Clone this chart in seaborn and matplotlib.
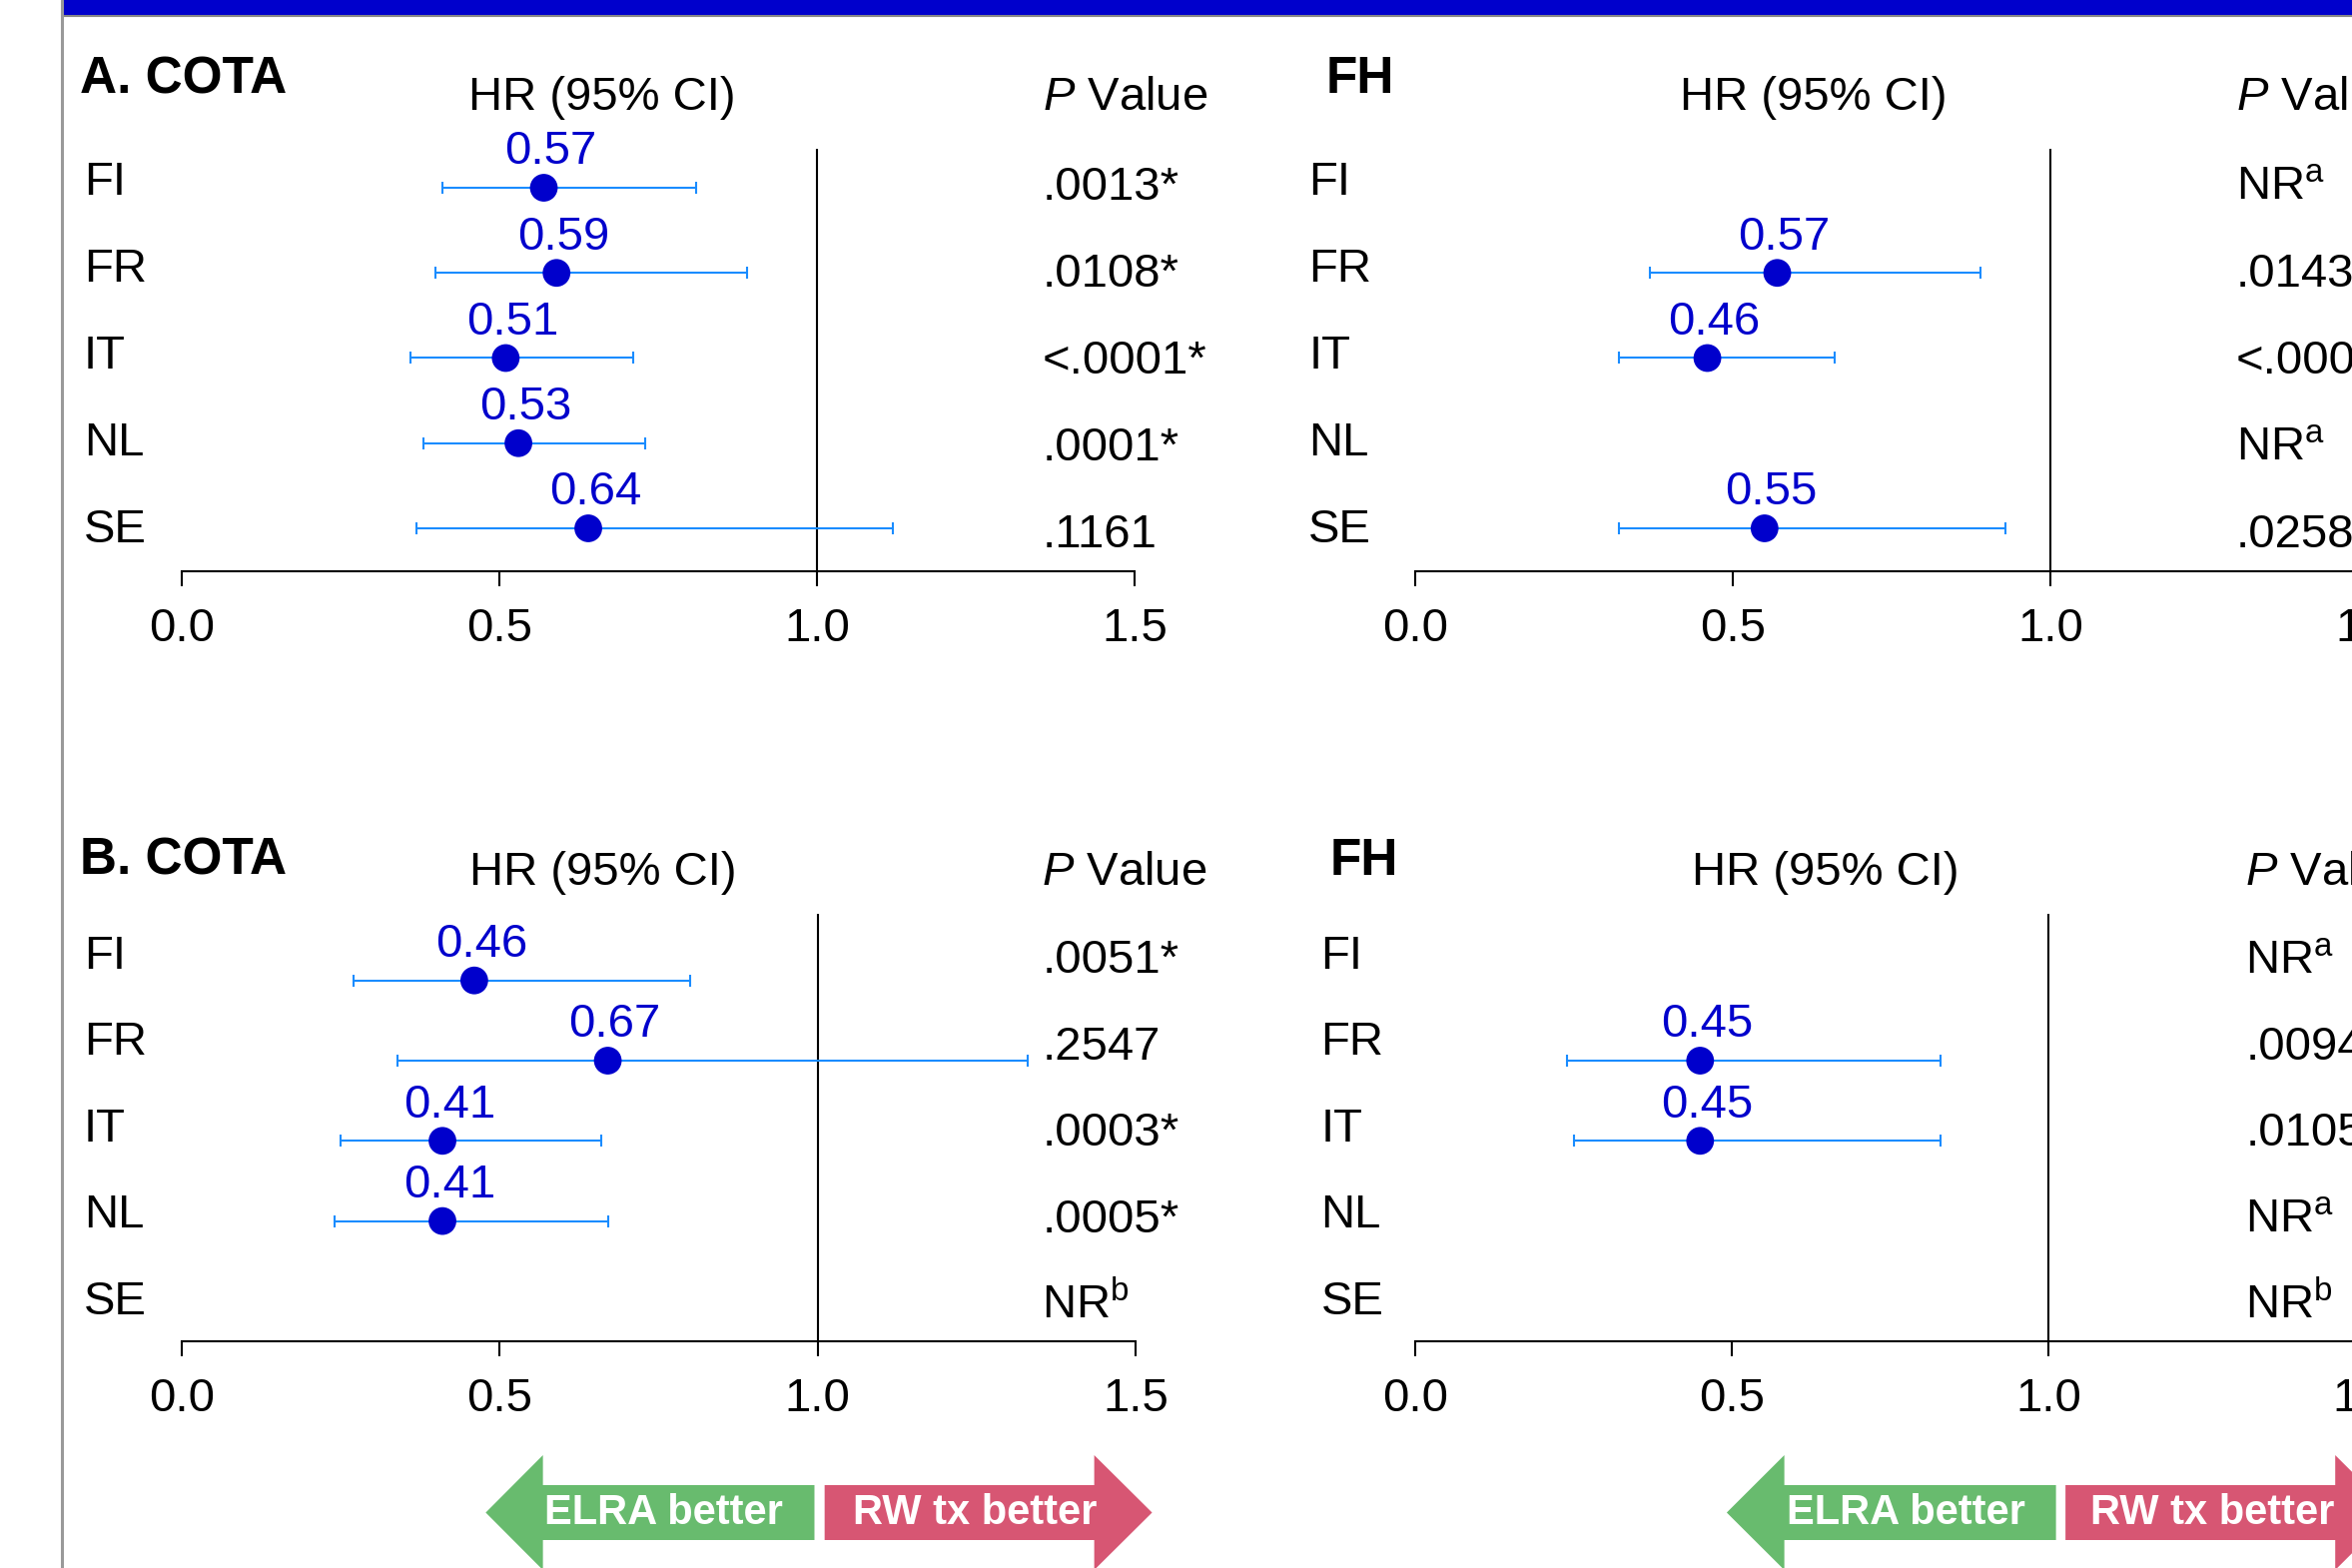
import numpy as np
import pandas as pd
import matplotlib
matplotlib.use("Agg")
import matplotlib.pyplot as plt
import matplotlib.transforms as mtransforms
from matplotlib.patches import Polygon, Rectangle
from matplotlib.lines import Line2D
import seaborn as sns

# ---- data ----
countries = ["FI", "FR", "IT", "NL", "SE"]
nan = np.nan

cota_a_hr = [0.57, 0.59, 0.51, 0.53, 0.64]
cota_a_lo = [0.41, 0.40, 0.36, 0.38, 0.37]
cota_a_hi = [0.81, 0.89, 0.71, 0.73, 1.12]
cota_a_p = [".0013*", ".0108*", "<.0001*", ".0001*", ".1161"]

fh_a_hr = [nan, 0.57, 0.46, nan, 0.55]
fh_a_lo = [nan, 0.37, 0.32, nan, 0.32]
fh_a_hi = [nan, 0.89, 0.66, nan, 0.93]
fh_a_p = [r"NR$^{\mathrm{a}}$", ".0143*", "<.0001*", r"NR$^{\mathrm{a}}$", ".0258*"]

cota_b_hr = [0.46, 0.67, 0.41, 0.41, nan]
cota_b_lo = [0.27, 0.34, 0.25, 0.24, nan]
cota_b_hi = [0.80, 1.33, 0.66, 0.67, nan]
cota_b_p = [".0051*", ".2547", ".0003*", ".0005*", r"NR$^{\mathrm{b}}$"]

fh_b_hr = [nan, 0.45, 0.45, nan, nan]
fh_b_lo = [nan, 0.24, 0.25, nan, nan]
fh_b_hi = [nan, 0.83, 0.83, nan, nan]
fh_b_p = [r"NR$^{\mathrm{a}}$", ".0094*", ".0105*", r"NR$^{\mathrm{a}}$", r"NR$^{\mathrm{b}}$"]

xticks = [0.0, 0.5, 1.0, 1.5]
xticklabels = ["0.0", "0.5", "1.0", "1.5"]

PT = "#0000CC"
CI = "#1A8CFF"
GREEN = "#68BB6E"
PINK = "#D75673"

sns.set_theme(style="white")
plt.rcParams["font.family"] = ["Liberation Sans", "DejaVu Sans"]
plt.rcParams["text.color"] = "black"
plt.rcParams["xtick.color"] = "black"
plt.rcParams["xtick.labelcolor"] = "black"
plt.rcParams["mathtext.fontset"] = "custom"
plt.rcParams["mathtext.rm"] = "Liberation Sans"
plt.rcParams["mathtext.it"] = "Liberation Sans:italic"
plt.rcParams["mathtext.bf"] = "Liberation Sans:bold"

W, H = 2355, 1570
fig = plt.figure(figsize=(W / 100, H / 100), dpi=100)
fig.patch.set_facecolor("white")

FS = 34

# layout of each panel (pixels of the full figure)
panels = [
    dict(title="A. COTA", hr=cota_a_hr, lo=cota_a_lo, hi=cota_a_hi, p=cota_a_p,
         box=(182, 149, 1136, 572), row0=188, drow=85.25, title_x=-0.160, title_y=93,
         head_x=0.662, head_y=110, p_x=1.355, lab_x=-0.154,
         lab_y0=195, p_y0=199.5, trow=87.1, arrows=None),
    dict(title="FH", hr=fh_a_hr, lo=fh_a_lo, hi=fh_a_hi, p=fh_a_p,
         box=(1417, 149, 2371, 572), row0=188, drow=85.25, title_x=-0.140, title_y=93,
         head_x=0.627, head_y=110, p_x=1.292, lab_x=-0.168,
         lab_y0=195, p_y0=199.5, trow=87.1, arrows=None),
    dict(title="B. COTA", hr=cota_b_hr, lo=cota_b_lo, hi=cota_b_hi, p=cota_b_p,
         box=(182, 915, 1137, 1343), row0=981.7, drow=80.3, title_x=-0.160, title_y=876,
         head_x=0.662, head_y=886, p_x=1.353, lab_x=-0.154,
         lab_y0=970, p_y0=974.5, trow=86.4,
         arrows=(0.478, 0.568, 0.995, 1.011, 1.435, 1.526, 0.758, 1.247)),
    dict(title="FH", hr=fh_b_hr, lo=fh_b_lo, hi=fh_b_hi, p=fh_b_p,
         box=(1417, 915, 2368, 1343), row0=981.7, drow=80.3, title_x=-0.135, title_y=876,
         head_x=0.648, head_y=886, p_x=1.311, lab_x=-0.149,
         lab_y0=970, p_y0=974.5, trow=86.4,
         arrows=(0.492, 0.583, 1.012, 1.027, 1.453, 1.544, 0.775, 1.259)),
]


def fy(py):
    return 1 - py / H


for pn in panels:
    l, t, r, b = pn["box"]
    ax = fig.add_axes([l / W, fy(b), (r - l) / W, (b - t) / H])
    ax.set_facecolor("none")

    df = pd.DataFrame(dict(country=countries, row=np.arange(len(countries)),
                           hr=pn["hr"], lo=pn["lo"], hi=pn["hi"]))
    ok = df.dropna()

    ax.axvline(1.0, color="black", lw=1.5, zorder=1)
    ax.errorbar(ok["hr"].to_numpy(), ok["row"].to_numpy(),
                xerr=[(ok["hr"] - ok["lo"]).to_numpy(), (ok["hi"] - ok["hr"]).to_numpy()],
                fmt="none", ecolor=CI, elinewidth=1.5, capsize=4, capthick=1.5, zorder=2)
    sns.scatterplot(data=ok, x="hr", y="row", ax=ax, color=PT, s=400,
                    edgecolor="none", zorder=3, legend=False)
    for _, rw in ok.iterrows():
        ax.annotate(f"{rw['hr']:.2f}", (rw["hr"], rw["row"]), xytext=(5, 17),
                    textcoords="offset points", ha="center", va="baseline",
                    color=PT, fontsize=FS, annotation_clip=False)

    # rows: top row at row0 px, spacing drow px
    top_row = (t - pn["row0"]) / pn["drow"]
    bot_row = (b - pn["row0"]) / pn["drow"]
    ax.set_xlim(0, 1.5)
    ax.set_ylim(bot_row, top_row)
    ax.set_xlabel("")
    ax.set_ylabel("")
    ax.set_yticks([])
    ax.set_xticks(xticks)
    ax.set_xticklabels(xticklabels)
    ax.tick_params(axis="x", direction="out", length=11, width=1.5, pad=15,
                   labelsize=FS, colors="black", bottom=True)
    sns.despine(ax=ax, left=True)
    ax.spines["bottom"].set_bounds(0, 1.5)
    ax.spines["bottom"].set_linewidth(1.5)
    ax.spines["bottom"].set_color("black")

    tr = mtransforms.blended_transform_factory(ax.transData, fig.transFigure)
    ax.text(pn["title_x"], fy(pn["title_y"]), pn["title"], transform=tr, ha="left",
            va="baseline", fontsize=37, fontweight="bold", clip_on=False)
    ax.text(pn["head_x"], fy(pn["head_y"]), "HR (95% CI)", transform=tr, ha="center",
            va="baseline", fontsize=FS, clip_on=False)
    ax.text(pn["p_x"], fy(pn["head_y"]), r"$\mathit{P}$ Value", transform=tr, ha="left",
            va="baseline", fontsize=FS, clip_on=False)
    for i, (c, p) in enumerate(zip(countries, pn["p"])):
        ax.text(pn["lab_x"], fy(pn["lab_y0"] + i * pn["trow"]), c, transform=tr,
                ha="left", va="baseline", fontsize=FS, clip_on=False)
        ax.text(pn["p_x"], fy(pn["p_y0"] + i * pn["trow"]), p, transform=tr,
                ha="left", va="baseline", fontsize=FS, clip_on=False)

    if pn["arrows"] is not None:
        gtip, gbase, gend, pstart, pbase, ptip, gtx, ptx = pn["arrows"]
        ht, st, tip, sb, hb = fy(1457), fy(1487), fy(1514.5), fy(1542), fy(1572)
        green = Polygon([(gtip, tip), (gbase, ht), (gbase, st), (gend, st), (gend, sb),
                         (gbase, sb), (gbase, hb)], closed=True, transform=tr,
                        facecolor=GREEN, edgecolor="none", clip_on=False)
        pink = Polygon([(ptip, tip), (pbase, ht), (pbase, st), (pstart, st), (pstart, sb),
                        (pbase, sb), (pbase, hb)], closed=True, transform=tr,
                       facecolor=PINK, edgecolor="none", clip_on=False)
        ax.add_patch(green)
        ax.add_patch(pink)
        ax.text(gtx, tip, "ELRA better", transform=tr, ha="center", va="center",
                color="white", fontsize=30, fontweight="bold", clip_on=False)
        ax.text(ptx, tip, "RW tx better", transform=tr, ha="center", va="center",
                color="white", fontsize=30, fontweight="bold", clip_on=False)

# poster frame: blue title band and grey left rule
fig.patches.append(Rectangle((62 / W, fy(15)), 1 - 62 / W, 15 / H, transform=fig.transFigure,
                             facecolor="#0000CC", edgecolor="none"))
fig.lines.append(Line2D([62 / W, 1], [fy(16), fy(16)], transform=fig.transFigure,
                        color="#888888", lw=1.5))
fig.lines.append(Line2D([62 / W, 62 / W], [0, 1], transform=fig.transFigure,
                        color="#999999", lw=2.2))

fig.savefig("out.png", dpi=100, facecolor="white")
